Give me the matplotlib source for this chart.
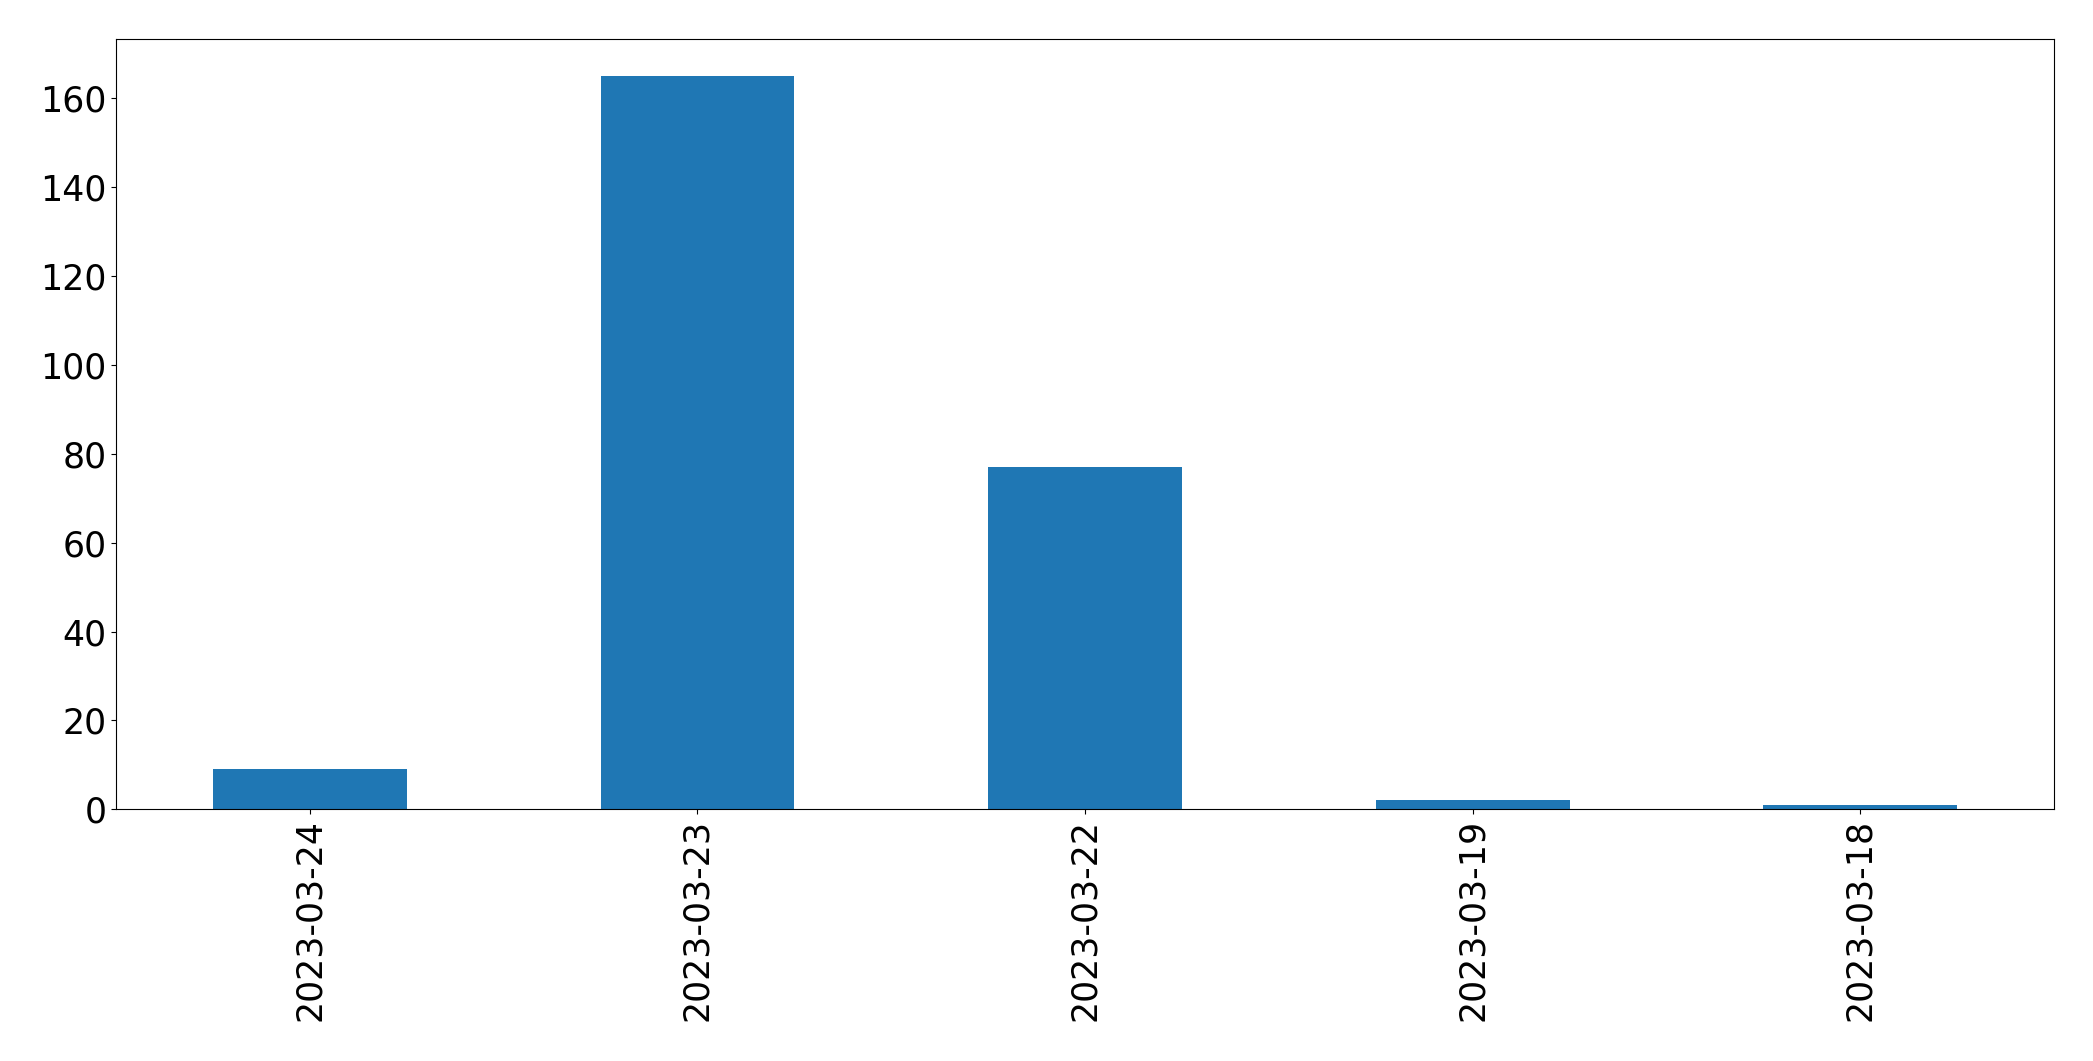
import matplotlib
matplotlib.use("Agg")
import matplotlib.pyplot as plt
import numpy as np

dates = ["2023-03-24", "2023-03-23", "2023-03-22", "2023-03-19", "2023-03-18"]
counts = [9, 165, 77, 2, 1]

fig, ax = plt.subplots(figsize=(20.93, 10.61), dpi=100)
fig.subplots_adjust(left=116 / 2093, right=2054 / 2093, top=1 - 39.3 / 1061, bottom=1 - 809.3 / 1061)

x = np.arange(len(dates))
ax.bar(x, counts, width=0.5, color="#1f77b4")
ax.set_xlim(-0.5, len(dates) - 0.5)
ax.set_xticks(x)
ax.set_xticklabels(dates, rotation=90)
ax.tick_params(labelsize=25)

fig.savefig("out.png", dpi=100)
